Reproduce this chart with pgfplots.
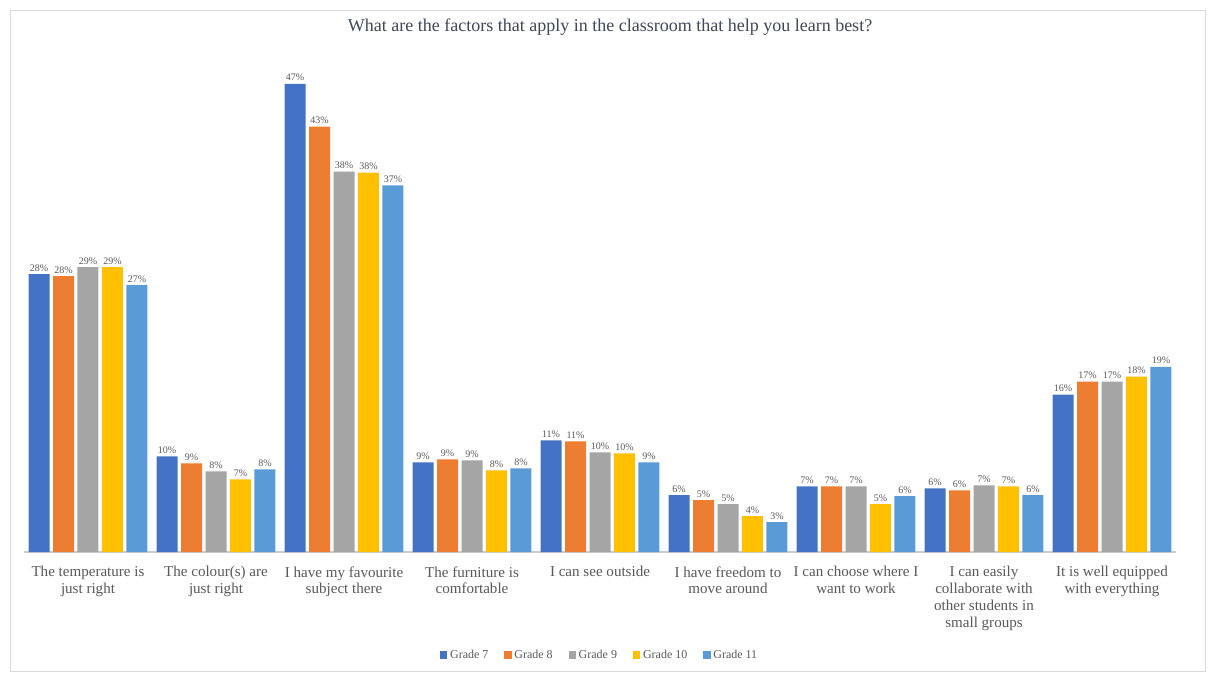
\documentclass[border=0pt]{standalone}
\usepackage{pgfplots}
\pgfplotsset{compat=1.18}
\usepackage{fontspec}
\setmainfont{Liberation Serif}
\definecolor{gA}{HTML}{4472C4}
\definecolor{gB}{HTML}{ED7D31}
\definecolor{gC}{HTML}{A5A5A5}
\definecolor{gD}{HTML}{FFC000}
\definecolor{gE}{HTML}{5B9BD5}
\definecolor{txt}{HTML}{595959}
\definecolor{ttl}{HTML}{3F4756}
\begin{document}
\begin{tikzpicture}
\begin{scope}[x=0.75pt,y=-0.75pt]
\path[use as bounding box, fill=white] (0,0) rectangle (1216,675);
\draw[color=black!15, line width=0.75pt] (10.5,10.5) rectangle (1205.5,671);
\node[font=\fontsize{13.5}{15}\selectfont, text=ttl] at (610,27) {What are the factors that apply in the classroom that help you learn best?};
\end{scope}
\begin{axis}[
  at={(18pt,-414pt)}, anchor=south west,
  width=864pt, height=373.5pt, scale only axis,
  xmin=-0.5, xmax=8.5, ymin=0, ymax=50,
  ybar=2.6pt, bar width=15.75pt,
  axis y line=none, axis x line*=bottom,
  x axis line style={-, draw=black!20, line width=0.8pt},
  xtick={0,...,8}, xtick style={draw=none}, ytick=\empty,
  xticklabels={{The temperature is\\just right},{The colour(s) are\\just right},{I have my favourite\\subject there},{The furniture is\\comfortable},{I can see outside},{I have freedom to\\move around},{I can choose where I\\want to work},{I can easily\\collaborate with\\other students in\\small groups},{It is well equipped\\with everything}},
  xticklabel style={align=center, font=\fontsize{11.3}{12.6}\selectfont, text=txt, yshift=-3pt},
  every axis plot/.append style={draw=none},
  point meta=y,
  nodes near coords={\pgfmathprintnumber{\pgfplotspointmeta}\%},
  nodes near coords style={font=\fontsize{7.5}{9}\selectfont, text=txt, inner sep=2pt,
    /pgf/number format/.cd, fixed, precision=0, assume math mode=true},
  legend style={at={(0.5,-0.207)}, anchor=center, draw=none, legend columns=-1,
    font=\fontsize{9}{11}\selectfont, text=txt,
    /tikz/every even column/.append style={column sep=10pt}},
  legend image code/.code={\fill[#1] (0pt,-2.75pt) rectangle (5.5pt,2.75pt);},
]
\addplot[fill=gA] coordinates {(0,27.9) (1,9.6) (2,47.0) (3,9.0) (4,11.2) (5,5.7) (6,6.6) (7,6.4) (8,15.8)};
\addplot[fill=gB] coordinates {(0,27.7) (1,8.9) (2,42.7) (3,9.3) (4,11.1) (5,5.2) (6,6.6) (7,6.2) (8,17.1)};
\addplot[fill=gC] coordinates {(0,28.6) (1,8.1) (2,38.2) (3,9.2) (4,10.0) (5,4.8) (6,6.6) (7,6.7) (8,17.1)};
\addplot[fill=gD] coordinates {(0,28.6) (1,7.3) (2,38.1) (3,8.2) (4,9.9) (5,3.6) (6,4.8) (7,6.6) (8,17.6)};
\addplot[fill=gE] coordinates {(0,26.8) (1,8.3) (2,36.8) (3,8.4) (4,9.0) (5,3.0) (6,5.6) (7,5.7) (8,18.6)};
\legend{Grade 7,Grade 8,Grade 9,Grade 10,Grade 11}
\end{axis}
\end{tikzpicture}
\end{document}
